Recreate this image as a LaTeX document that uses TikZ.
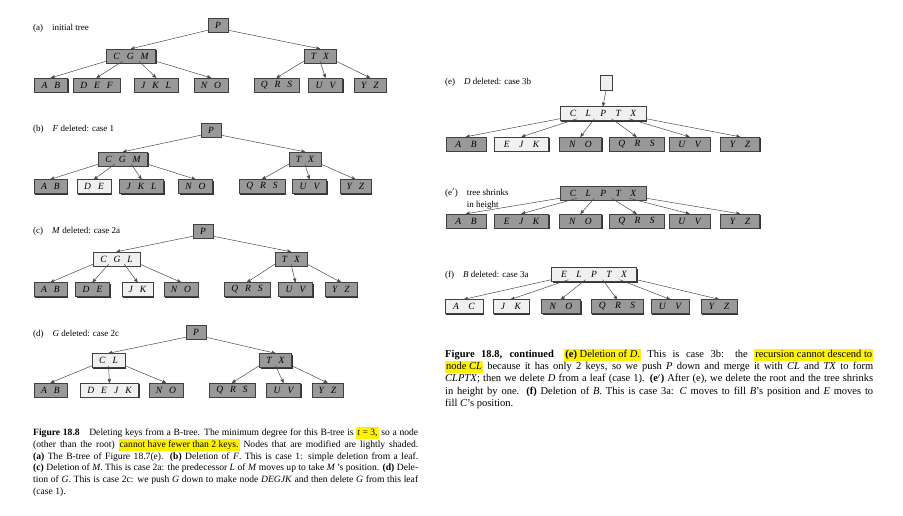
\documentclass[tikz,border=0pt]{standalone}
\usepackage{fontspec}
\setmainfont{Liberation Serif}
\usetikzlibrary{arrows,shadows,calc}

\newcommand{\kg}{\hspace{7pt}}
\newcommand{\kw}{\hspace{9.5pt}}
\newcommand{\hl}[1]{{\setlength{\fboxsep}{0pt}\colorbox{yellow}{\strut\hspace{1pt}#1\hspace{1pt}}}}
\newcommand{\jl}[2]{\makebox[#1][s]{#2}}
\newcommand{\kids}[3]{%
  \foreach \ch [count=\n from 0] in {#3}
    \draw[link] ($(#1.south west)!{\n/#2}!(#1.south east)+(0,-2)$) -- (\ch.north);}

\begin{document}
\begin{tikzpicture}[x=1pt,y=-1pt,>=stealth',
  key/.style={draw=black!75,fill=black!40,font=\fontsize{9.5}{10}\selectfont\itshape,
    minimum height=14pt,inner xsep=7pt,inner ysep=0pt,
    drop shadow={shadow xshift=1.2pt,shadow yshift=-1.2pt,fill=black!80,opacity=1}},
  mod/.style={key,fill=black!6},
  wide/.style={inner xsep=9.5pt},
  link/.style={->,draw=black!70,line width=.5pt},
  lbl/.style={anchor=west,inner sep=0pt,align=left,font=\fontsize{9}{12}\selectfont}]
  \useasboundingbox[fill=white] (0,0) rectangle (903,516);

  % (a) initial tree
  \node[lbl] (la) at (33,28) {(a)\quad initial tree};
  \node[key] (aP)   at (218,25)  {P};
  \node[key] (aCGM) at (131,56)  {C\kg G\kg M};
  \node[key] (aTX)  at (320,56)  {T\kg X};
  \node[key] (aAB)  at (51,85)   {A\kg B};
  \node[key] (aDEF) at (96.5,85) {D\kg E\kg F};
  \node[key] (aJKL) at (156,85)  {J\kg K\kg L};
  \node[key] (aNO)  at (211,85)  {N\kg O};
  \node[key] (aQRS) at (276.5,85) {Q\kg R\kg S};
  \node[key] (aUV)  at (325.5,85) {U\kg V};
  \node[key] (aYZ)  at (370,85)  {Y\kg Z};
  \kids{aP}{1}{aCGM,aTX}
  \kids{aCGM}{3}{aAB,aDEF,aJKL,aNO}
  \kids{aTX}{2}{aQRS,aUV,aYZ}

  % (b) F deleted
  \node[lbl] (lb) at (33,129) {(b)\quad \textit{F} deleted: case 1};
  \node[key] (bP)   at (211,130)   {P};
  \node[key] (bCGM) at (123,159)   {C\kg G\kg M};
  \node[key] (bTX)  at (305,159)   {T\kg X};
  \node[key] (bAB)  at (50.5,186.5)  {A\kg B};
  \node[mod] (bDE)  at (94,186.5)    {D\kg E};
  \node[key] (bJKL) at (141.5,186.5) {J\kg K\kg L};
  \node[key] (bNO)  at (195.5,186.5) {N\kg O};
  \node[key] (bQRS) at (262,186.5)   {Q\kg R\kg S};
  \node[key] (bUV)  at (309.5,186.5) {U\kg V};
  \node[key] (bYZ)  at (355.5,186.5) {Y\kg Z};
  \kids{bP}{1}{bCGM,bTX}
  \kids{bCGM}{3}{bAB,bDE,bJKL,bNO}
  \kids{bTX}{2}{bQRS,bUV,bYZ}

  % (c) M deleted
  \node[lbl] (lc) at (33,231) {(c)\quad \textit{M} deleted: case 2a};
  \node[key] (cP)   at (203,231)   {P};
  \node[mod] (cCGL) at (116.5,259) {C\kg G\kg L};
  \node[key] (cTX)  at (291,259)   {T\kg X};
  \node[key] (cAB)  at (50.5,289.5)  {A\kg B};
  \node[key] (cDE)  at (92.5,289.5)  {D\kg E};
  \node[mod] (cJK)  at (137.5,289.5) {J\kg K};
  \node[key] (cNO)  at (181,289.5)   {N\kg O};
  \node[key] (cQRS) at (247,289.5)   {Q\kg R\kg S};
  \node[key] (cUV)  at (295.5,289.5) {U\kg V};
  \node[key] (cYZ)  at (341,289.5)   {Y\kg Z};
  \kids{cP}{1}{cCGL,cTX}
  \kids{cCGL}{3}{cAB,cDE,cJK,cNO}
  \kids{cTX}{2}{cQRS,cUV,cYZ}

  % (d) G deleted
  \node[lbl] (ld) at (33,334) {(d)\quad \textit{G} deleted: case 2c};
  \node[key] (dP)    at (196,332)     {P};
  \node[mod] (dCL)   at (108.5,360.5) {C\kg L};
  \node[key] (dTX)   at (275.5,360.5) {T\kg X};
  \node[key] (dAB)   at (50.5,390)    {A\kg B};
  \node[mod] (dDEJK) at (109.5,390)   {D\kg E\kg J\kg K};
  \node[key] (dNO)   at (166,390)     {N\kg O};
  \node[key] (dQRS)  at (232,390)     {Q\kg R\kg S};
  \node[key] (dUV)   at (283.5,390)   {U\kg V};
  \node[key] (dYZ)   at (327.5,390)   {Y\kg Z};
  \kids{dP}{1}{dCL,dTX}
  \kids{dCL}{2}{dAB,dDEJK,dNO}
  \kids{dTX}{2}{dQRS,dUV,dYZ}

  % (e) D deleted
  \node[lbl] (le) at (445,82) {(e)\quad \textit{D} deleted: case 3b};
  \node[mod,inner xsep=0pt,minimum width=12pt,minimum height=15pt] (eR) at (606,82.5) {};
  \node[mod,wide] (eCLPTX) at (603,113.5) {C\kw L\kw P\kw T\kw X};
  \node[key,wide] (eAB)  at (466,144)   {A\kw B};
  \node[mod,wide] (eEJK) at (521.5,144) {E\kw J\kw K};
  \node[key,wide] (eNO)  at (580.5,144) {N\kw O};
  \node[key,wide] (eQRS) at (636.5,144) {Q\kw R\kw S};
  \node[key,wide] (eUV)  at (689.5,144) {U\kw V};
  \node[key,wide] (eYZ)  at (740,144)   {Y\kw Z};
  \draw[link] (eR.south) -- (eCLPTX.north);
  \kids{eCLPTX}{5}{eAB,eEJK,eNO,eQRS,eUV,eYZ}

  % (e') tree shrinks
  \node[lbl] (le2) at (445,199) {(e$'$)\quad tree shrinks\\\phantom{(e$'$)\quad}in height};
  \node[key,wide] (e2CLPTX) at (603,193) {C\kw L\kw P\kw T\kw X};
  \node[key,wide] (e2AB)  at (466,221)   {A\kw B};
  \node[key,wide] (e2EJK) at (521.5,221) {E\kw J\kw K};
  \node[key,wide] (e2NO)  at (580.5,221) {N\kw O};
  \node[key,wide] (e2QRS) at (636.5,221) {Q\kw R\kw S};
  \node[key,wide] (e2UV)  at (689.5,221) {U\kw V};
  \node[key,wide] (e2YZ)  at (740,221)   {Y\kw Z};
  \kids{e2CLPTX}{5}{e2AB,e2EJK,e2NO,e2QRS,e2UV,e2YZ}

  % (f) B deleted
  \node[lbl] (lf) at (445,275) {(f)\quad \textit{B} deleted: case 3a};
  \node[mod,wide] (fELPTX) at (594,274.5) {E\kw L\kw P\kw T\kw X};
  \node[mod,inner xsep=8pt] (fAC)  at (464,306.5) {A\kw C};
  \node[mod,inner xsep=8pt] (fJK)  at (511,306.5) {J\kw K};
  \node[key,inner xsep=8pt] (fNO)  at (561,306.5) {N\kw O};
  \node[key,inner xsep=8pt] (fQRS) at (617,306.5) {Q\kw R\kw S};
  \node[key,inner xsep=8pt] (fUV)  at (670,306.5) {U\kw V};
  \node[key,inner xsep=8pt] (fYZ)  at (719,306.5) {Y\kw Z};
  \kids{fELPTX}{5}{fAC,fJK,fNO,fQRS,fUV,fYZ}

  % captions
  \node[anchor=north west,inner sep=0pt,align=left,font=\fontsize{9.6}{11.8}\selectfont] (capL) at (33,427) {%
    \jl{385pt}{\strut\textbf{Figure 18.8}\quad Deleting keys from a B-tree. The minimum degree for this B-tree is \hl{\textit{t} = 3,} so a node}\\
    \jl{385pt}{(other than the root) \hl{cannot have fewer than 2 keys.} Nodes that are modified are lightly shaded.}\\
    \jl{385pt}{\textbf{(a)} The B-tree of Figure 18.7(e). \textbf{(b)} Deletion of \textit{F}. This is case 1: simple deletion from a leaf.}\\
    \jl{385pt}{\textbf{(c)} Deletion of \textit{M}. This is case 2a: the predecessor \textit{L} of \textit{M} moves up to take \textit{M}\,'s position. \textbf{(d)} Dele-}\\
    \jl{385pt}{tion of \textit{G}. This is case 2c: we push \textit{G} down to make node \textit{DEGJK} and then delete \textit{G} from this leaf}\\
    (case 1).};
  \node[anchor=north west,inner sep=0pt,align=left,font=\fontsize{10.5}{12.4}\selectfont] (capR) at (445,348.3) {%
    \jl{428pt}{\strut\textbf{Figure 18.8, continued}\quad \hl{\textbf{(e)} Deletion of \textit{D}.} This is case 3b: the \hl{recursion cannot descend to}}\\
    \jl{428pt}{\hl{node \textit{CL}} because it has only 2 keys, so we push \textit{P} down and merge it with \textit{CL} and \textit{TX} to form}\\
    \jl{428pt}{\textit{CLPTX}; then we delete \textit{D} from a leaf (case 1). \textbf{(e$'$)} After (e), we delete the root and the tree shrinks}\\
    \jl{428pt}{in height by one. \textbf{(f)} Deletion of \textit{B}. This is case 3a: \textit{C} moves to fill \textit{B}'s position and \textit{E} moves to}\\
    fill \textit{C}'s position.};
\end{tikzpicture}
\end{document}
